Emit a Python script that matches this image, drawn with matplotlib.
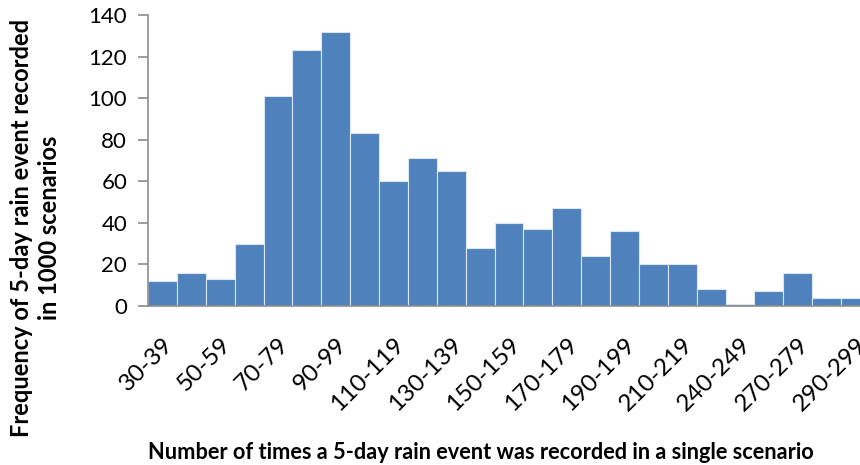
import numpy as np
import matplotlib
matplotlib.use("Agg")
import matplotlib.pyplot as plt

plt.rcParams["font.family"] = ["Lato", "DejaVu Sans"]

# bins of "times recorded per scenario" and how often each occurred
bins = ["30-39", "40-49", "50-59", "60-69", "70-79", "80-89", "90-99",
        "100-109", "110-119", "120-129", "130-139", "140-149", "150-159",
        "160-169", "170-179", "180-189", "190-199", "200-209", "210-219",
        "220-229", "240-249", "250-259", "270-279", "280-289", "290-299"]
freq = [12, 16, 13, 30, 101, 123, 132, 83, 60, 71, 65, 28, 40,
        37, 47, 24, 36, 20, 20, 8, 1, 7, 16, 4, 4]
yticks = [0, 20, 40, 60, 80, 100, 120, 140]

fig = plt.figure(figsize=(8.6, 4.65), dpi=100)
# right edge runs a little past the figure, so the last bar is clipped
ax = fig.add_axes([148 / 860, 1 - 306 / 465, 722 / 860, 291 / 465])

x = np.arange(len(bins))
ax.bar(x, freq, width=1.0, color="#4F81BD", edgecolor="#dce6f2", linewidth=0.8)

ax.set_xlim(-0.5, len(bins) - 0.5)
ax.set_ylim(0, 140)
ax.set_yticks(yticks)
ax.set_xticks(x[::2])
ax.set_xticklabels(bins[::2], rotation=45, ha="right", rotation_mode="anchor")

grey = "#8c8c8c"
for side in ("top", "right"):
    ax.spines[side].set_visible(False)
for side in ("left", "bottom"):
    ax.spines[side].set_color(grey)
    ax.spines[side].set_linewidth(1.2)
ax.tick_params(axis="y", length=7, width=1.2, color=grey, labelsize=16, pad=8)
ax.tick_params(axis="x", length=0, labelsize=17.5, pad=20)

ax.set_ylabel("Frequency of 5-day rain event recorded\nin 1000 scenarios",
              fontsize=17, fontweight="bold", linespacing=1.3)
ax.yaxis.set_label_coords(-0.12, 0.268)
fig.text(481 / 860, 1 - 452 / 465,
         "Number of times a 5-day rain event was recorded in a single scenario",
         ha="center", va="center", fontsize=15.7, fontweight="bold")

fig.savefig("out.png", dpi=100)
